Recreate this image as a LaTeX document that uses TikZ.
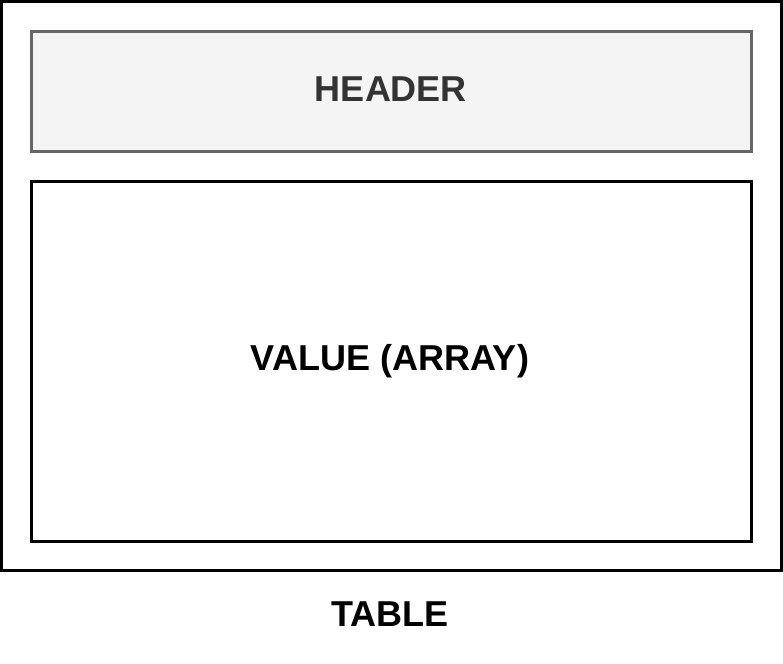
\documentclass[tikz,border=0pt]{standalone}
\usepackage{fontspec}
\setmainfont{Liberation Sans}
\definecolor{hdrfill}{HTML}{F4F4F4}
\definecolor{hdrline}{HTML}{666666}
\definecolor{hdrtext}{HTML}{333333}
\begin{document}
\begin{tikzpicture}[x=1pt,y=-1pt,
  frame/.style={draw=black,line width=3pt},
  headerbox/.style={draw=hdrline,fill=hdrfill,line width=3pt},
  valuebox/.style={draw=black,fill=white,line width=3pt},
  label/.style={font=\fontsize{36}{40}\selectfont\bfseries,inner sep=0pt}]
\useasboundingbox (0,0) rectangle (783,663);
% outer table frame
\draw[frame] (1.5,1.5) rectangle (781.5,570.5);
% header area
\draw[headerbox] (31.5,31.5) rectangle (751.5,151.5);
\node[label,text=hdrtext] (header) at (391,89) {HEADER};
% value area
\draw[valuebox] (31.5,181.5) rectangle (751.5,541.5);
\node[label] (value) at (390,361) {VALUE (ARRAY)};
% caption
\node[label] (table) at (390,614) {TABLE};
\end{tikzpicture}
\end{document}
